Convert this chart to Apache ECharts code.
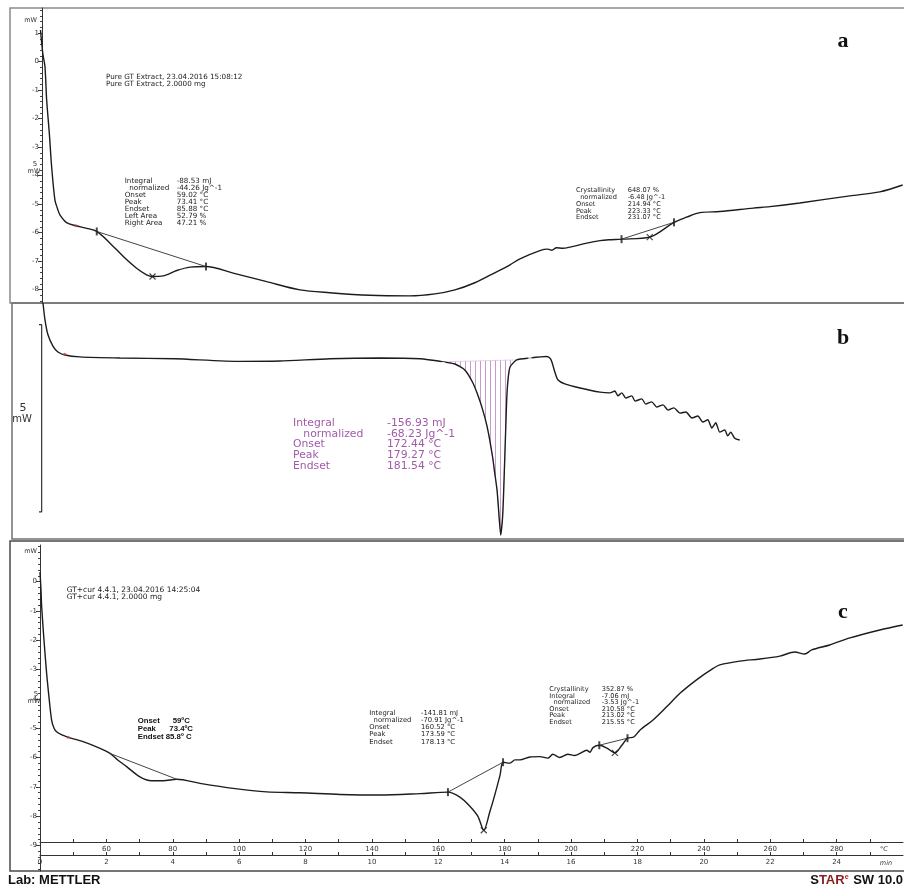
<!DOCTYPE html>
<html>
<head>
<meta charset="UTF-8">
<title>DSC GT</title>
<script src="https://cdn.jsdelivr.net/npm/echarts@6.0.0/dist/echarts.min.js"></script>
<style>html,body{margin:0;padding:0;background:#fff}</style>
</head>
<body>
<div id="main" style="width:904px;height:888px"></div>
<script>
// all x values in degC (10 K/min from 40 degC, so min = (T-40)/10)
// panel a : Pure GT Extract
var curveA = [[40.15,1.11],[40.5,0.66],[40.9,0.24],[41.5,-0.18],[42.0,-1.34],[42.8,-2.50],[43.5,-3.68],
  [44.5,-4.86],[45.3,-5.17],[46.0,-5.38],[48.0,-5.65],[50.8,-5.76],[54.1,-5.85],[57.1,-5.96],[61.1,-6.37],
  [65.1,-6.84],[69.1,-7.25],[72.1,-7.48],[73.9,-7.54],[77.1,-7.52],[81.2,-7.33],[85.2,-7.21],[90.0,-7.19],
  [98.2,-7.42],[108.3,-7.72],[118.3,-8.01],[127.3,-8.11],[139.4,-8.20],[151.4,-8.22],[159.0,-8.15],
  [165.0,-8.01],[171.0,-7.76],[177.0,-7.41],[181.6,-7.13],[184.6,-6.92],[190.6,-6.63],[193.0,-6.58],
  [194.2,-6.62],[195.6,-6.53],[197.5,-6.55],[199.6,-6.51],[204.7,-6.37],[208.7,-6.28],[211.4,-6.25],
  [215.2,-6.23],[223.7,-6.16],[231.0,-5.64],[234.8,-5.46],[238.8,-5.30],[244.8,-5.26],[254.9,-5.14],
  [259.9,-5.09],[268.9,-4.96],[284.0,-4.71],[293.0,-4.57],[299.9,-4.33]];
var baseA1 = [[57.1,-5.96],[90.0,-7.19]];
var baseA2 = [[215.2,-6.23],[231.0,-5.64]];
var limitsA = [[57.1,-5.96],[90.0,-7.19],[215.2,-6.23],[231.0,-5.64]];
var peaksA = [[73.9,-7.54],[223.7,-6.16]];
var startA = [[50.8,-5.76]];

// panel b : scale only (5 mW bar)
var curveB = [[40.9,1.52],[41.5,1.07],[42.4,0.67],[43.9,0.37],[45.4,0.21],[47.5,0.13],[52.0,0.08],
  [64.1,0.05],[80.7,0.03],[100.2,-0.04],[112.3,-0.03],[127.3,0.03],[142.4,0.05],[154.5,0.03],
  [161.4,-0.05],[165.0,-0.11],[168.0,-0.27],[170.4,-0.61],[171.9,-0.94],[173.4,-1.34],[174.6,-1.74],
  [175.5,-2.14],[176.4,-2.62],[177.0,-3.02],[177.7,-3.48],[178.1,-3.93],[178.8,-4.68],[179.3,-4.28],
  [179.6,-3.74],[180.1,-2.41],[180.6,-1.07],[181.0,-0.53],[181.6,-0.19],[183.6,0.0],[187.6,0.05],
  [192.6,0.09],[193.6,0.05],[194.2,-0.05],[195.1,-0.32],[196.0,-0.53],[198.1,-0.64],[202.7,-0.75],
  [208.7,-0.86],[211.7,-0.88],[213.2,-0.83],[214.1,-0.96],[215.3,-0.88],[216.5,-1.02],[218.3,-0.96],
  [219.3,-1.10],[221.3,-1.04],[222.5,-1.18],[224.3,-1.12],[225.8,-1.26],[227.7,-1.20],[229.2,-1.34],
  [231.0,-1.28],[232.8,-1.42],[234.6,-1.39],[236.4,-1.55],[238.2,-1.50],[239.7,-1.66],[241.2,-1.60],
  [242.4,-1.82],[243.6,-1.68],[244.8,-1.93],[246.3,-1.87],[247.2,-2.03],[248.1,-1.93],[249.3,-2.09],
  [250.8,-2.14]];
var hatchRangeB = [161.4, 183.6];
var limitsB = [[161.4,0.05],[161.4,-0.13],[187.6,0.13],[187.6,-0.03]];
var startB = [[47.5,0.15]];
var scaleBarB = [[37.9,0.94],[40.5,0.94],[40.5,-4.06],[37.9,-4.06]];

// panel c : GT + cur
var curveC = [[40.0,0.33],[40.3,-0.29],[40.5,-0.85],[41.2,-1.99],[42.0,-3.13],[42.8,-4.04],[43.5,-4.72],
  [44.2,-4.99],[45.0,-5.12],[46.6,-5.23],[48.5,-5.31],[53.0,-5.46],[58.1,-5.69],[61.1,-5.86],[63.5,-6.09],
  [66.1,-6.31],[70.1,-6.66],[73.6,-6.79],[77.1,-6.79],[81.2,-6.74],[88.2,-6.88],[98.2,-7.05],[108.3,-7.17],
  [118.3,-7.20],[130.4,-7.26],[142.4,-7.28],[154.5,-7.23],[162.9,-7.18],[166.5,-7.35],[169.5,-7.66],
  [171.9,-8.00],[173.7,-8.48],[175.5,-7.86],[177.0,-7.28],[178.6,-6.60],[179.5,-6.16],[181.6,-6.19],
  [183.1,-6.08],[184.6,-6.08],[187.6,-5.98],[190.6,-5.97],[193.0,-6.02],[194.5,-5.89],[196.6,-6.00],
  [199.0,-5.89],[201.1,-5.93],[202.7,-5.86],[204.7,-5.75],[205.7,-5.82],[206.6,-5.66],[208.5,-5.58],
  [210.8,-5.68],[213.2,-5.84],[215.3,-5.58],[217.0,-5.34],[218.9,-5.30],[220.8,-5.06],[224.7,-4.72],
  [228.8,-4.27],[232.8,-3.81],[237.8,-3.35],[242.8,-2.96],[244.8,-2.84],[250.8,-2.71],[256.9,-2.64],
  [262.9,-2.54],[267.4,-2.40],[270.4,-2.47],[272.5,-2.33],[277.9,-2.16],[284.0,-1.92],[293.0,-1.65],
  [299.9,-1.48]];
var baseC1 = [[61.1,-5.86],[81.2,-6.74]];
var baseC2 = [[162.9,-7.18],[179.5,-6.16]];
var baseC3 = [[208.5,-5.58],[217.0,-5.34]];
var limitsC = [[162.9,-7.18],[179.5,-6.16],[208.5,-5.58],[217.0,-5.34]];
var peaksC = [[173.7,-8.48],[213.2,-5.84]];
var startC = [[48.5,-5.31]];

// axis ticks
var yTicksA = [1,0,-1,-2,-3,-4,-5,-6,-7,-8];
var yTicksC = [0,-1,-2,-3,-4,-5,-6,-7,-8,-9];
var tempTicks = [60,80,100,120,140,160,180,200,220,240,260,280];
var timeTicks = [0,2,4,6,8,10,12,14,16,18,20,22,24];

function minorOf(lo, hi, step) {
  var out = [];
  for (var v = lo; v <= hi + 1e-9; v += step) out.push(Math.round(v * 100) / 100);
  return out;
}

var FONT = 'DejaVu Sans';
var INK = '#1c1c1c';

function block(x, y, lines, size, lh, color, weight, family) {
  return {
    type: 'text', x: x, y: y, silent: true,
    style: { text: lines.join('\n'), font: (weight || 'normal') + ' ' + size + 'px "' + (family || FONT) + '"',
      fill: color || '#222', lineHeight: lh, verticalAlign: 'top' }
  };
}
function word(x, y, s, font, color, align) {
  return {
    type: 'text', x: x, y: y, silent: true,
    style: { text: s, font: font, fill: color || '#222', align: align || 'left', verticalAlign: 'middle' }
  };
}

// vertical hatch pattern for the melting area
var hatch = document.createElement('canvas');
hatch.width = 5; hatch.height = 4;
var hctx = hatch.getContext('2d');
hctx.fillStyle = '#c79ccd';
hctx.fillRect(0, 0, 1, 4);

var hatchPts = curveB.filter(function (p) { return p[0] >= hatchRangeB[0] && p[0] <= hatchRangeB[1]; });

var myChart = echarts.init(document.getElementById('main'), null, { renderer: 'canvas' });

function hiddenX(g) {
  return { gridIndex: g, type: 'value', min: 40, max: 300, show: false, axisLine: { onZero: false } };
}
function lineSeries(data, xi, yi, w, color, smooth) {
  return { type: 'line', data: data, xAxisIndex: xi, yAxisIndex: yi, showSymbol: false, symbol: 'none',
    smooth: smooth || 0, silent: true, animation: false,
    lineStyle: { color: color || INK, width: w } };
}
function marks(data, xi, yi, kind) {
  var s = { type: 'scatter', data: data, xAxisIndex: xi, yAxisIndex: yi, silent: true, animation: false, z: 5 };
  if (kind === 'bar') {
    s.symbol = 'rect'; s.symbolSize = [2, 8]; s.itemStyle = { color: INK };
  } else if (kind === 'cross') {
    s.symbol = 'path://M0,0L10,10M10,0L0,10'; s.symbolSize = 6;
    s.itemStyle = { color: 'none', borderColor: INK, borderWidth: 1.2 };
  } else if (kind === 'red') {
    s.symbol = 'circle'; s.symbolSize = 3; s.itemStyle = { color: '#c04848' };
  } else {
    s.symbol = 'emptyCircle'; s.symbolSize = 4; s.itemStyle = { color: '#fff', borderColor: '#c890c8', borderWidth: 1 };
  }
  return s;
}
function yAxisMain(g, min, max, ticks, off) {
  return { gridIndex: g, type: 'value', position: 'left', min: min, max: max, offset: off,
    axisLine: { show: true, onZero: false, lineStyle: { color: '#333', width: 1 } },
    axisTick: { show: true, customValues: ticks, length: 4, lineStyle: { color: '#333' } },
    axisLabel: { customValues: ticks, fontSize: 7, fontFamily: FONT, color: '#333', margin: 3 },
    splitLine: { show: false } };
}
function yAxisMinor(g, min, max, ticks, off) {
  return { gridIndex: g, type: 'value', position: 'left', min: min, max: max, offset: off,
    axisLine: { show: false },
    axisTick: { show: true, customValues: ticks, length: 2, lineStyle: { color: '#444' } },
    axisLabel: { show: false }, splitLine: { show: false } };
}

var option = {
  animation: false,
  backgroundColor: '#fff',
  grid: [
    { left: 40, right: 1, top: 8, height: 295 },
    { left: 40, right: 1, top: 303, height: 237 },
    { left: 40, right: 1, top: 545, height: 326 }
  ],
  xAxis: [
    hiddenX(0),
    hiddenX(1),
    { gridIndex: 2, type: 'value', min: 40, max: 300, position: 'bottom', offset: -29,
      axisLine: { show: true, onZero: false, lineStyle: { color: '#333', width: 1 } },
      axisTick: { show: true, inside: true, customValues: minorOf(50, 290, 10), length: 3, lineStyle: { color: '#333' } },
      axisLabel: { customValues: tempTicks, fontSize: 7, fontFamily: FONT, color: '#333', margin: 4 },
      splitLine: { show: false } },
    { gridIndex: 2, type: 'value', min: 0, max: 26, position: 'bottom', offset: -16,
      axisLine: { show: true, onZero: false, lineStyle: { color: '#333', width: 1 } },
      axisTick: { show: true, inside: true, customValues: minorOf(1, 25, 1), length: 3, lineStyle: { color: '#333' } },
      axisLabel: { customValues: timeTicks, fontSize: 7, fontFamily: FONT, color: '#333', margin: 4 },
      splitLine: { show: false } }
  ],
  yAxis: [
    yAxisMain(0, -8.47, 1.88, yTicksA, -2),
    yAxisMinor(0, -8.47, 1.88, minorOf(-8.4, 1.8, 0.2), -2),
    { gridIndex: 1, type: 'value', min: -4.81, max: 1.52, show: false },
    yAxisMain(2, -9.87, 1.25, yTicksC, 0),
    yAxisMinor(2, -9.87, 1.25, minorOf(-9.8, 1.2, 0.2), 0)
  ],
  series: [
    lineSeries(curveA, 0, 0, 1.4, INK, 0.3),
    lineSeries(baseA1, 0, 0, 1, '#444'),
    lineSeries(baseA2, 0, 0, 1, '#444'),
    marks(limitsA, 0, 0, 'bar'),
    marks(peaksA, 0, 0, 'cross'),
    marks(startA, 0, 0, 'red'),

    { type: 'custom', xAxisIndex: 1, yAxisIndex: 2, data: [0], silent: true, animation: false, z: 1,
      clip: false,
      renderItem: function (params, api) {
        var pts = hatchPts.map(function (p) { return api.coord(p); });
        return { type: 'polygon', shape: { points: pts },
          style: { fill: { image: hatch, repeat: 'repeat' }, stroke: '#d5b3d8', lineWidth: 0.6 } };
      } },
    lineSeries(curveB, 1, 2, 1.4, INK, 0.2),
    marks(limitsB, 1, 2, 'ring'),
    marks(startB, 1, 2, 'red'),
    (function () { var s = lineSeries(scaleBarB, 1, 2, 1.2, '#333'); s.clip = false; return s; })(),

    lineSeries(curveC, 2, 3, 1.4, INK, 0.3),
    lineSeries(baseC1, 2, 3, 1, '#444'),
    lineSeries(baseC2, 2, 3, 1, '#444'),
    lineSeries(baseC3, 2, 3, 1, '#444'),
    marks(limitsC, 2, 3, 'bar'),
    marks(peaksC, 2, 3, 'cross'),
    marks(startC, 2, 3, 'red')
  ],
  graphic: [
    // panel frames
    { type: 'rect', shape: { x: 10, y: 8, width: 900, height: 295 }, silent: true, z: -1,
      style: { fill: 'none', stroke: '#8a8a8a', lineWidth: 1.5 } },
    { type: 'rect', shape: { x: 12, y: 303, width: 900, height: 236 }, silent: true, z: -1,
      style: { fill: 'none', stroke: '#707070', lineWidth: 1.5 } },
    { type: 'rect', shape: { x: 10, y: 541, width: 900, height: 330 }, silent: true, z: -1,
      style: { fill: 'none', stroke: '#4a4a4a', lineWidth: 1.5 } },

    // panel a
    word(843, 41, 'a', 'bold 22px "Liberation Serif"', '#111', 'center'),
    word(37, 20, 'mW', '6.5px "' + FONT + '"', '#333', 'right'),
    word(35, 164, '5', '7px "' + FONT + '"', '#333', 'center'),
    word(34, 171, 'mW', '6.5px "' + FONT + '"', '#333', 'center'),
    block(106, 73, ['Pure GT Extract, 23.04.2016 15:08:12', 'Pure GT Extract, 2.0000 mg'], 7.2, 7.4),
    block(124.7, 178, ['Integral', '  normalized', 'Onset', 'Peak', 'Endset', 'Left Area', 'Right Area'], 7.2, 6.9),
    block(176.7, 178, ['-88.53 mJ', '-44.26 Jg^-1', '59.02 \u00b0C', '73.41 \u00b0C', '85.88 \u00b0C', '52.79 %', '47.21 %'], 7.2, 6.9),
    block(576, 187.2, ['Crystallinity', '  normalized', 'Onset', 'Peak', 'Endset'], 6.6, 6.75),
    block(627.7, 187.2, ['648.07 %', '-6.48 Jg^-1', '214.94 \u00b0C', '223.33 \u00b0C', '231.07 \u00b0C'], 6.6, 6.75),

    // panel b
    word(843, 338, 'b', 'bold 22px "Liberation Serif"', '#111', 'center'),
    word(23, 408, '5', '11px "' + FONT + '"', '#333', 'center'),
    word(22, 419, 'mW', '10px "' + FONT + '"', '#333', 'center'),
    block(293, 417.5, ['Integral', '   normalized', 'Onset', 'Peak', 'Endset'], 10.8, 10.8, '#a25aa8'),
    block(387, 417.5, ['-156.93 mJ', '-68.23 Jg^-1', '172.44 \u00b0C', '179.27 \u00b0C', '181.54 \u00b0C'], 10.8, 10.8, '#a25aa8'),

    // panel c
    word(843, 612, 'c', 'bold 22px "Liberation Serif"', '#111', 'center'),
    word(37, 551.5, 'mW', '6.5px "' + FONT + '"', '#333', 'right'),
    word(36, 694, '5', '7px "' + FONT + '"', '#333', 'center'),
    word(34, 701, 'mW', '6.5px "' + FONT + '"', '#333', 'center'),
    block(66.7, 586, ['GT+cur 4.4.1, 23.04.2016 14:25:04', 'GT+cur 4.4.1, 2.0000 mg'], 7.5, 7.4),
    block(137.7, 716.5, ['Onset', 'Peak', 'Endset'], 7.8, 8, '#111', 'bold', 'Liberation Sans'),
    word(172.7, 720.7, '59\u00baC', 'bold 7.8px "Liberation Sans"', '#111'),
    word(169.3, 728.7, '73.4\u00baC', 'bold 7.8px "Liberation Sans"', '#111'),
    word(165.7, 736.7, '85.8\u00ba C', 'bold 7.8px "Liberation Sans"', '#111'),
    block(369.3, 709.8, ['Integral', '  normalized', 'Onset', 'Peak', 'Endset'], 6.8, 7.1),
    block(421, 709.8, ['-141.81 mJ', '-70.91 Jg^-1', '160.52 \u00b0C', '173.59 \u00b0C', '178.13 \u00b0C'], 6.8, 7.1),
    block(549.3, 686, ['Crystallinity', 'Integral', '  normalized', 'Onset', 'Peak', 'Endset'], 6.6, 6.6),
    block(601.7, 686, ['352.87 %', '-7.06 mJ', '-3.53 Jg^-1', '210.58 \u00b0C', '213.02 \u00b0C', '215.55 \u00b0C'], 6.6, 6.6),
    word(884, 849.5, '\u00b0C', 'italic 6.5px "' + FONT + '"', '#333', 'center'),
    word(886, 863, 'min', 'italic 6.5px "' + FONT + '"', '#333', 'center'),

    // footer
    word(8, 880.5, 'Lab: METTLER', 'bold 13px "Liberation Sans"', '#111'),
    { type: 'text', x: 903, y: 880.5, silent: true,
      style: { text: '{k|S}{r|TAR}{e|e}{k| SW 10.0}', align: 'right', verticalAlign: 'middle',
        rich: {
          k: { font: 'bold 13px "Liberation Sans"', fill: '#111' },
          r: { font: 'bold 13px "Liberation Sans"', fill: '#8a1e1e' },
          e: { font: 'bold 7px "Liberation Sans"', fill: '#c02020', verticalAlign: 'top', padding: [0, 1, 6, 0] }
        } } }
  ]
};
myChart.setOption(option);
</script>
</body>
</html>
